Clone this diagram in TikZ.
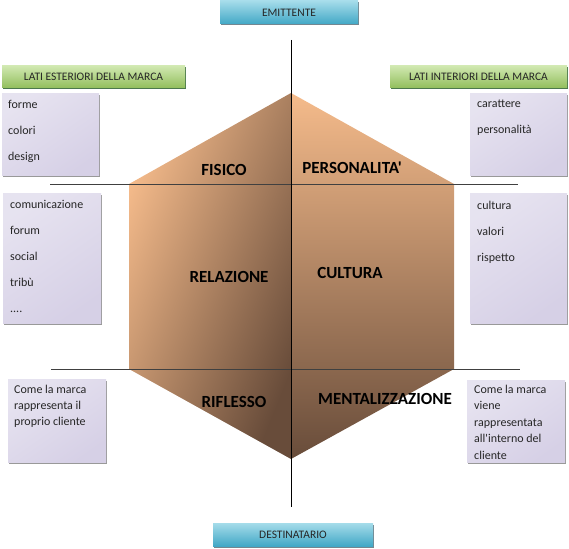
\documentclass[tikz,border=0pt]{standalone}
\usepackage{fontspec}
\setmainfont{Carlito}[Ligatures=TeXOff]
\usepackage{tikz}
\usetikzlibrary{shadows}

\definecolor{hexlight}{RGB}{245,187,139}
\definecolor{hexmid}{RGB}{208,156,114}
\definecolor{hexdark}{RGB}{104,76,58}
\definecolor{lavender}{RGB}{214,208,230}
\definecolor{greentop}{RGB}{208,232,176}
\definecolor{greenbot}{RGB}{146,190,92}
\definecolor{tealtop}{RGB}{165,220,234}
\definecolor{tealbot}{RGB}{66,168,198}
\definecolor{txtgray}{RGB}{38,38,38}

\tikzset{
  listbox/.style={rectangle, anchor=north west, inner sep=0pt,
    top color=lavender!60, middle color=white, bottom color=lavender, shading angle=35,
    drop shadow={shadow xshift=1.2pt, shadow yshift=-1.5pt, fill=black!40, opacity=1}},
  listtext/.style={anchor=north west, align=left, inner sep=0pt, text=txtgray},
  greenbox/.style={rectangle, inner sep=0pt, top color=greentop, bottom color=greenbot,
    font=\fontsize{11.5}{13}\selectfont, text=black!85,
    drop shadow={shadow xshift=1.2pt, shadow yshift=-1.5pt, fill=green!25!black!70, opacity=1}},
  tealbox/.style={rectangle, inner sep=0pt, top color=tealtop, bottom color=tealbot,
    font=\fontsize{11.5}{13}\selectfont, text=black!85,
    drop shadow={shadow xshift=1.2pt, shadow yshift=-1.5pt, fill=cyan!30!black!70, opacity=1}},
  facet/.style={font=\bfseries\fontsize{17}{19}\selectfont, text=black}
}

\begin{document}
\begin{tikzpicture}[x=1pt, y=-1pt]
  \useasboundingbox (0,0) rectangle (569,548);

  % hexagon corners
  \coordinate (hextop) at (291,93);
  \coordinate (hexul) at (129,184);
  \coordinate (hexur) at (454,184);
  \coordinate (hexll) at (129,369);
  \coordinate (hexlr) at (454,369);
  \coordinate (hexbot) at (291,459);
  \shade[top color=hexlight, bottom color=hexdark, shading angle=68]
    (hextop) -- (hexul) -- (hexll) -- (hexbot) -- cycle;
  \shade[top color=hexlight, middle color=hexmid, bottom color=hexdark]
    (hextop) -- (hexur) -- (hexlr) -- (hexbot) -- cycle;

  % axes
  \coordinate (uplinel) at (50,184);
  \coordinate (upliner) at (518,184);
  \coordinate (lowlinel) at (51,369);
  \coordinate (lowliner) at (520,369);
  \coordinate (axistop) at (291,40);
  \coordinate (axisbot) at (291,507);
  \draw[black!75, line width=0.8pt] (uplinel) -- (upliner);
  \draw[black!75, line width=0.8pt] (lowlinel) -- (lowliner);
  \draw[black, line width=0.8pt] (axistop) -- (axisbot);

  % headers
  \node[tealbox, minimum width=138, minimum height=23] (emittente) at (289,12.5) {EMITTENTE};
  \node[tealbox, minimum width=160, minimum height=23] (destinatario) at (293,534.5) {DESTINATARIO};
  \node[greenbox, minimum width=183, minimum height=22] (esteriori) at (93.5,77) {LATI ESTERIORI DELLA MARCA};
  \node[greenbox, minimum width=177, minimum height=22] (interiori) at (478.5,77) {LATI INTERIORI DELLA MARCA};

  % side boxes
  \node[listbox, minimum width=97, minimum height=82] (formebox) at (2,93) {};
  \node[listbox, minimum width=97, minimum height=82] (caratterebox) at (470,93) {};
  \node[listbox, minimum width=98, minimum height=130] (comunicbox) at (3,193) {};
  \node[listbox, minimum width=97, minimum height=130] (culturabox) at (470,193) {};
  \node[listbox, minimum width=98, minimum height=83] (riflessobox) at (8,379) {};
  \node[listbox, minimum width=98, minimum height=82] (mentalbox) at (467,380) {};

  \node[listtext, font=\fontsize{12}{26}\selectfont] (formetext) at (8,100) {forme\\colori\\design};
  \node[listtext, font=\fontsize{12}{26}\selectfont] (carattext) at (477,100) {carattere\\personalità};
  \node[listtext, font=\fontsize{12}{25.8}\selectfont] (comunictext) at (10,200.5) {comunicazione\\forum\\social\\tribù\\....};
  \node[listtext, font=\fontsize{12}{26}\selectfont] (culturatext) at (477,200.5) {cultura\\valori\\rispetto};
  \node[listtext, font=\fontsize{12}{16.3}\selectfont] (riflessotext) at (14,384.5) {Come la marca\\rappresenta il\\proprio cliente};
  \node[listtext, font=\fontsize{12}{16.5}\selectfont] (mentaltext) at (474,384.5) {Come la marca\\viene\\rappresentata\\all'interno del\\cliente};

  % facets
  \node[facet] (fisico) at (224,170) {FISICO};
  \node[facet] (personalita) at (352,168) {PERSONALITA'};
  \node[facet] (relazione) at (229,277) {RELAZIONE};
  \node[facet] (cultura) at (350,273) {CULTURA};
  \node[facet] (riflesso) at (234,402) {RIFLESSO};
  \node[facet] (mentalizzazione) at (385,399) {MENTALIZZAZIONE};
\end{tikzpicture}
\end{document}
